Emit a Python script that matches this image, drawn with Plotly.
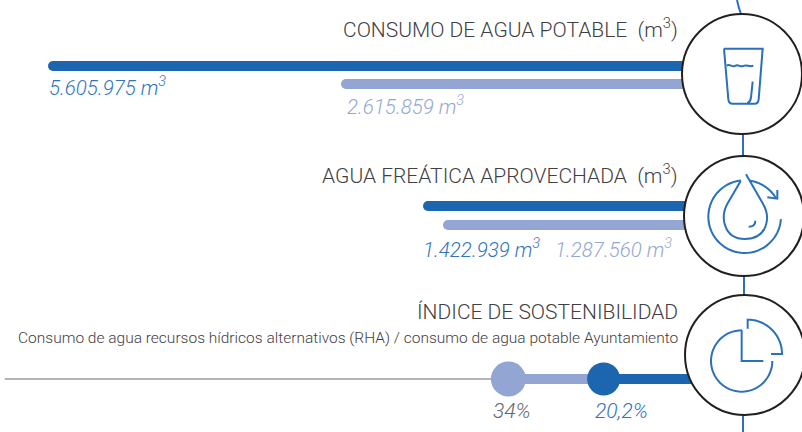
import math
import plotly.graph_objects as go

W, H = 802, 432
DARK, LIGHT, ICON = "#1c66b0", "#92a5d3", "#2a70ba"
INK, GREY = "#3f4042", "#b4b5b6"
FONT = "Roboto"

# ---- data ----
titles = ["CONSUMO DE AGUA POTABLE  (m<sup>3</sup>)",
          "AGUA FREÁTICA APROVECHADA  (m<sup>3</sup>)",
          "ÍNDICE DE SOSTENIBILIDAD"]
subtitle = "Consumo de agua recursos hídricos alternativos (RHA) / consumo de agua potable Ayuntamiento"
volume_labels = ["5.605.975 m<sup>3</sup>", "2.615.859 m<sup>3</sup>",
                 "1.422.939 m<sup>3</sup>", "1.287.560 m<sup>3</sup>"]
# drawn bar lengths (the source is not to scale)
dark_bar_lengths = [695, 320]
light_bar_lengths = [402, 300]
index_values = [34, 20.2]
index_labels = ["34%", "20,2%"]
index_track_end = 107

# ---- layout geometry ----
ORIGIN = 743
PX_PER_PCT = 6.9
dark_rows = [66, 206]
light_rows = [84, 225]
INDEX_ROW = 379


def px(x, y):
    return x / W, 1 - y / H


def path(points_or_cmds, ox=0, oy=0, scale=1.0):
    out = []
    for item in points_or_cmds:
        cmd, coords = item[0], item[1:]
        parts = []
        for i in range(0, len(coords), 2):
            a, b = px(ox + coords[i] * scale, oy + coords[i + 1] * scale)
            parts.append(f"{a:.5f},{b:.5f}")
        out.append(cmd + " ".join(parts))
    return " ".join(out)


def arc(cx, cy, r, a0, a1, first="M", n=48):
    res = []
    for i in range(n + 1):
        t = math.radians(a0 + (a1 - a0) * i / n)
        res.append(("M" if (i == 0 and first == "M") else "L", cx + r * math.cos(t), cy + r * math.sin(t)))
    return res


fig = go.Figure()
fig.add_trace(go.Bar(x=dark_bar_lengths, y=dark_rows, orientation="h", width=10,
                     marker=dict(color=DARK, cornerradius=5, line_width=0), showlegend=False))
fig.add_trace(go.Bar(x=light_bar_lengths, y=light_rows, orientation="h", width=10,
                     marker=dict(color=LIGHT, cornerradius=5, line_width=0), showlegend=False))
fig.add_trace(go.Scatter(x=[index_track_end, index_values[0]], y=[INDEX_ROW] * 2, mode="lines", xaxis="x2",
                         line=dict(color=GREY, width=2), showlegend=False))
fig.add_trace(go.Scatter(x=[index_values[0], index_values[1]], y=[INDEX_ROW] * 2, mode="lines", xaxis="x2",
                         line=dict(color=LIGHT, width=10), showlegend=False))
fig.add_trace(go.Scatter(x=[index_values[1], 0], y=[INDEX_ROW] * 2, mode="lines", xaxis="x2",
                         line=dict(color=DARK, width=10), showlegend=False))
fig.add_trace(go.Scatter(x=index_values[:1], y=[INDEX_ROW], mode="markers", xaxis="x2",
                         marker=dict(color=LIGHT, size=35, line_width=0), showlegend=False))
fig.add_trace(go.Scatter(x=index_values[1:], y=[INDEX_ROW], mode="markers", xaxis="x2",
                         marker=dict(color=DARK, size=33, line_width=0), showlegend=False))

shapes = []


def add_path(d, color=ICON, width=2):
    shapes.append(dict(type="path", xref="paper", yref="paper", path=d,
                       line=dict(color=color, width=width), fillcolor="rgba(0,0,0,0)"))


# connector lines
add_path(path([("M", 737, 0), ("C", 738, 5, 739, 9, 741, 14)]))
for x, y0, y1 in [(743, 130, 160), (744, 272, 298), (743, 412, 432)]:
    add_path(path([("M", x, y0), ("L", x, y1)]))

# big circles
for cx, cy in [(742, 74), (744, 216), (745, 355)]:
    a, b = px(cx - 60, cy - 60)
    c, d = px(cx + 60, cy + 60)
    shapes.append(dict(type="circle", xref="paper", yref="paper", x0=a, x1=c, y0=d, y1=b,
                       fillcolor="white", line=dict(color="#231f20", width=2)))

# glass icon (coordinates at 1/3 px scale)
s = 1 / 3
add_path(path([("M", 192, 146), ("L", 308, 146), ("L", 296, 298),
               ("C", 295, 307, 291, 311, 284, 311), ("L", 218, 311),
               ("C", 210, 311, 206, 307, 205, 298), ("L", 192, 146)], 660, 0, s))
add_path(path([("M", 200, 197), ("C", 210, 190, 215, 203, 225, 198), ("C", 235, 191, 240, 203, 250, 198),
               ("C", 260, 192, 268, 203, 280, 197)], 660, 0, s))
add_path(path([("M", 278, 245), ("L", 273, 292), ("C", 272, 302, 268, 307, 262, 310)], 660, 0, s))

# drop icon
add_path(path([("M", 242, 123), ("L", 203, 190), ("C", 180, 230, 190, 297, 255, 297),
               ("C", 320, 297, 335, 235, 308, 190), ("L", 258, 103)], 660, 140, s))
add_path(path([("M", 266, 260), ("C", 278, 260, 286, 254, 286, 242)], 660, 140, s))
add_path(path(arc(254, 230, 109, -96, -356), 660, 140, s))
add_path(path(arc(254, 230, 109, -82, -31), 660, 140, s))
add_path(path([("M", 322, 172), ("L", 352, 176), ("L", 352, 150)], 660, 140, s))

# pie icon
add_path(path(arc(245, 228, 92, -90, -360), 660, 285, s))
add_path(path([("M", 245, 135), ("L", 245, 228), ("L", 310, 228)], 660, 285, s))
add_path(path([("M", 263, 131), ("L", 263, 104)] + arc(263, 207, 103, -90, 0, first="L")
              + [("L", 333, 207)], 660, 285, s))

annotations = []


def text(s_, x, y, size, color, anchor="left", font=FONT):
    a, b = px(x, y)
    annotations.append(dict(text=s_, x=a, y=b, xref="paper", yref="paper", xanchor=anchor, yanchor="middle",
                            showarrow=False, align=anchor,
                            font=dict(family=font, size=size, color=color, weight=300)))


text(titles[0], 680, 28, 21, INK, "right")
text(titles[1], 680, 174, 21, INK, "right")
text(titles[2], 680, 312, 21, INK, "right")
text(subtitle, 680, 338, 15.5, INK, "right")
V = "#2f74bd"
VL = "#93a7d6"
text(f"<i>{volume_labels[0]}</i>", 47, 87, 20.5, V)
text(f"<i>{volume_labels[1]}</i>", 345, 105, 20.5, VL)
text(f"<i>{volume_labels[2]}</i>", 421, 248, 20.5, V)
text(f"<i>{volume_labels[3]}</i>", 553, 248, 20.5, VL)
text(f"<i>{index_labels[0]}</i>", 512, 411, 21, "#66676a", "center")
text(f"<i>{index_labels[1]}</i>", 621, 411, 21, V, "center")

fig.update_layout(
    width=W, height=H, margin=dict(l=0, r=0, t=0, b=0), autosize=False,
    paper_bgcolor="white", plot_bgcolor="white", barmode="overlay", showlegend=False,
    xaxis=dict(range=[ORIGIN, ORIGIN - W], visible=False, fixedrange=True),
    xaxis2=dict(range=[ORIGIN / PX_PER_PCT, (ORIGIN - W) / PX_PER_PCT], overlaying="x", visible=False, fixedrange=True),
    yaxis=dict(range=[H, 0], visible=False, fixedrange=True),
    shapes=shapes, annotations=annotations,
)
fig.write_html("out.html", config={"displayModeBar": False},
               post_script="document.body.style.margin='0';document.documentElement.style.overflow='hidden';")
